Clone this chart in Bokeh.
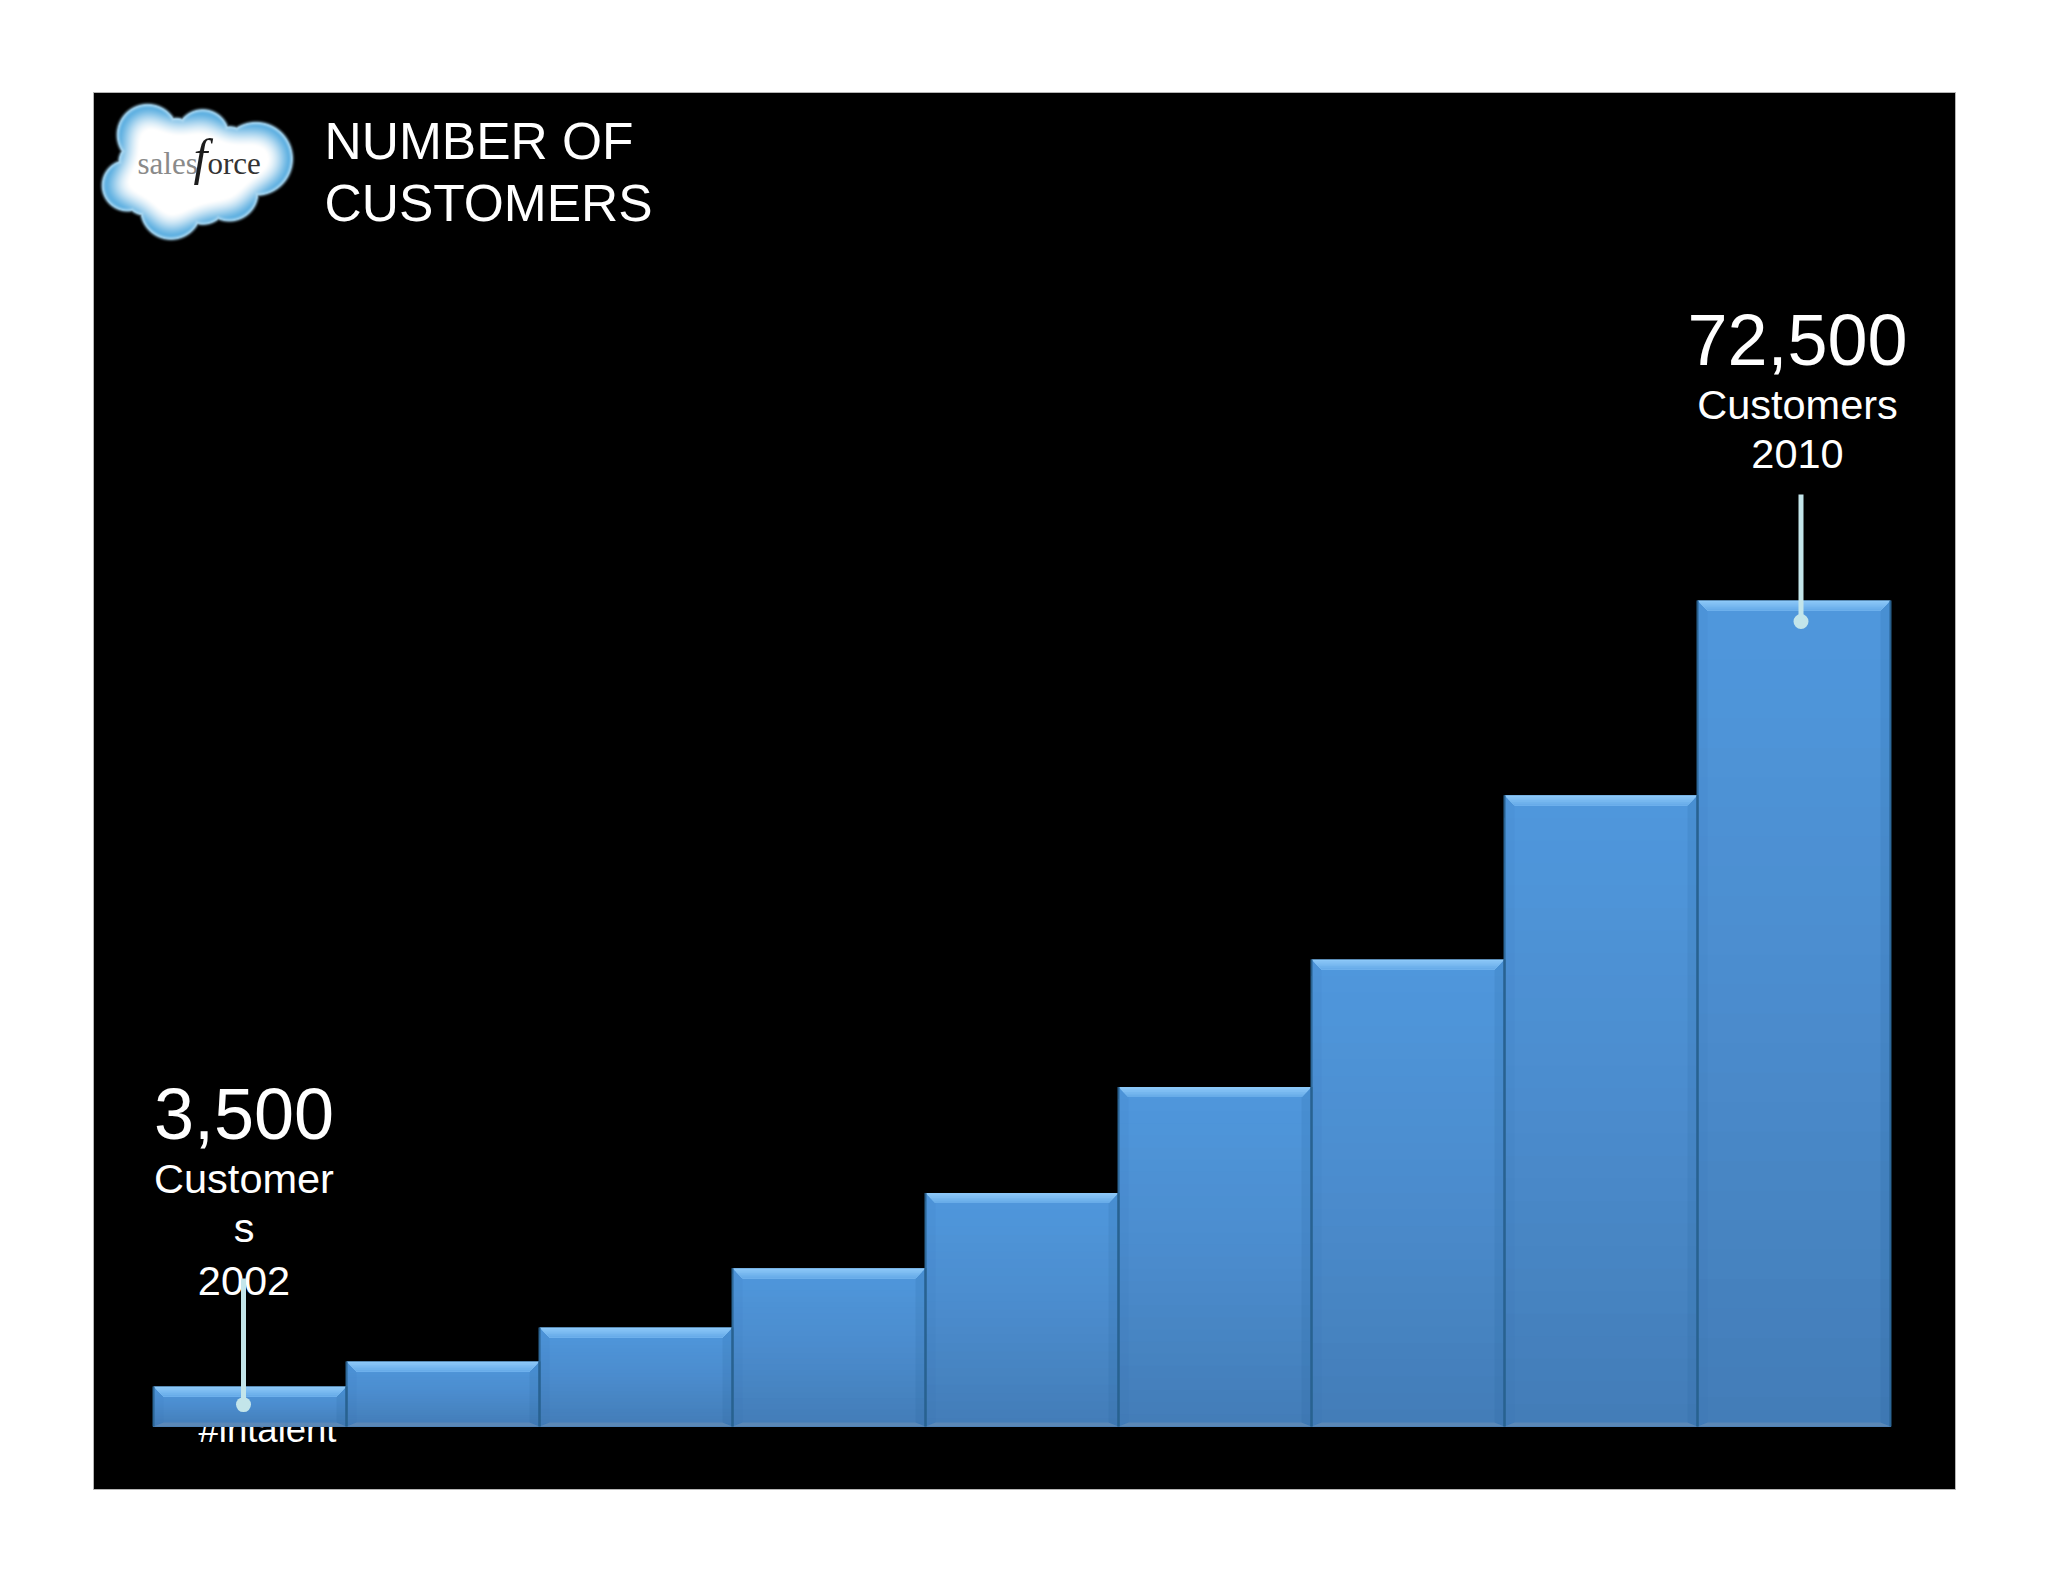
import numpy as np
from bokeh.core.properties import value
from bokeh.embed import file_html
from bokeh.resources import INLINE
from bokeh.plotting import figure
from bokeh.models import Range1d

# ---- data ----
years = [2002, 2003, 2004, 2005, 2006, 2007, 2008, 2009, 2010]
customers = [3500, 5700, 8700, 13900, 20500, 29800, 41000, 55400, 72500]
title_lines = ["NUMBER OF", "CUSTOMERS"]
first_callout = ["3,500", "Customer", "s", "2002"]
last_callout = ["72,500", "Customers", "2010"]
hidden_label = "#intalent"

# ---- layout: page pixels of the frame, and of the value axis ----
WIDTH, HEIGHT = 2032, 1566
FRAME_L, FRAME_R, FRAME_T, FRAME_B = 93, 1955, 92, 1489
BAR_PX = 193.0
BASE_PX = 1426.0
FIRST_CENTRE_PX = 249.5
PX_PER_CUSTOMER = 826.0 / customers[-1]
BASELINE_SHIFT = 0.375  # share of the font size the svg text sits below its anchor


def X(px):
    return years[0] + (px - FIRST_CENTRE_PX) / BAR_PX


def Y(px):
    return (BASE_PX - px) / PX_PER_CUSTOMER


dx = 1 / BAR_PX
dy = 1 / PX_PER_CUSTOMER

p = figure(
    width=WIDTH, height=HEIGHT, output_backend="svg", toolbar_location=None,
    x_range=Range1d(X(FRAME_L), X(FRAME_R)), y_range=Range1d(Y(FRAME_B), Y(FRAME_T)),
    x_axis_location=None, y_axis_location=None,
    min_border_left=FRAME_L, min_border_right=WIDTH - FRAME_R,
    min_border_top=FRAME_T, min_border_bottom=HEIGHT - FRAME_B,
    background_fill_color="#000000", border_fill_color="#ffffff",
    outline_line_color="#b5b5b5", outline_line_width=1,
)
p.grid.visible = False

FONT = "Liberation Sans"


def txt(s, px, py, size, align="center", color="#ffffff", font=FONT, style="normal"):
    p.text(x=[X(px)], y=[Y(py - BASELINE_SHIFT * size)], text=[s], text_font=value(font),
           text_font_size=f"{size}px", text_color=color, text_align=align,
           text_baseline="alphabetic", text_font_style=style)


# label that sits behind the first bar
txt(hidden_label, 198, 1443, 36.5, align="left")


def hex_rgb(c):
    return np.array([int(c[i:i + 2], 16) for i in (1, 3, 5)], float)


def mix(stops, t):
    for (t0, c0), (t1, c1) in zip(stops, stops[1:]):
        if t <= t1:
            f = (t - t0) / (t1 - t0)
            v = hex_rgb(c0) * (1 - f) + hex_rgb(c1) * f
            return "#%02x%02x%02x" % tuple(int(round(a)) for a in v)
    return stops[-1][1]


BODY = [(0, "#4f97dc"), (0.5, "#4b8ccd"), (1, "#437db8")]
TOP = [(0, "#8cc8f8"), (1, "#68ace9")]

# body gradient: painted top first, each slice reaching to the bar's base
STEPS = 28
L, R, T, C = [], [], [], []
for yr, v in zip(years, customers):
    for k in range(STEPS):
        L.append(yr - 0.5)
        R.append(yr + 0.5)
        T.append(v * (1 - k / STEPS))
        C.append(mix(BODY, k / (STEPS - 1)))
p.quad(left=L, right=R, top=T, bottom=[0] * len(T), fill_color=C, line_color=None)

# bevels
BH, BW, BB = 10, 10, 4
xs_l, ys_l, xs_r, ys_r, xs_b, ys_b = [], [], [], [], [], []
xs_t, ys_t, c_t = [], [], []
for yr, v in zip(years, customers):
    l, r = yr - 0.5, yr + 0.5
    xs_l.append([l, l + BW * dx, l + BW * dx, l])
    ys_l.append([v, v - BH * dy, BB * dy, 0])
    xs_r.append([r, r - BW * dx, r - BW * dx, r])
    ys_r.append([v, v - BH * dy, BB * dy, 0])
    xs_b.append([l, r, r - BW * dx, l + BW * dx])
    ys_b.append([0, 0, BB * dy, BB * dy])
    n = 6
    for j in range(n):
        a = BH * j / n
        xs_t.append([l + a * dx, r - a * dx, r - BH * dx, l + BH * dx])
        ys_t.append([v - a * dy, v - a * dy, v - BH * dy, v - BH * dy])
        c_t.append(mix(TOP, j / (n - 1)))
p.patches(xs_l, ys_l, fill_color="#2a6aa8", fill_alpha=0.07, line_color=None)
p.patches(xs_r, ys_r, fill_color="#1f5a90", fill_alpha=0.13, line_color=None)
p.patches(xs_b, ys_b, fill_color="#8098b4", fill_alpha=0.40, line_color=None)
p.patches(xs_t, ys_t, fill_color=c_t, line_color=None)

# dark edges of the bars
ex = [yr - 0.5 for yr in years] + [yr + 0.5 for yr in years]
ey = list(customers) + list(customers)
p.segment(x0=ex, y0=[0] * len(ex), x1=ex, y1=ey, line_color="#28618f", line_width=2.2, line_alpha=0.85)

# callouts
for s, py, size in zip(first_callout, [1140, 1194, 1243, 1296], [72, 41.5, 41.5, 41.5]):
    txt(s, 243.5, py, size)
for s, py, size in zip(last_callout, [366, 420, 469], [72, 41.5, 41.5]):
    txt(s, 1797, py, size)

# leaders: from a point above the bar to a dot inside it
lead_x = [years[0] - 6.5 * dx, years[-1] + 7 * dx]
lead_top = [customers[0] + 108 * dy, customers[-1] + 106 * dy]
lead_dot = [customers[0] - 18 * dy, customers[-1] - 21 * dy]
p.segment(x0=lead_x, y0=lead_dot, x1=lead_x, y1=lead_top, line_color="#c3e5ea", line_width=5)
p.scatter(x=lead_x, y=lead_dot, size=15, marker="circle", fill_color="#c3e5ea", line_color=None)

# heading
txt(title_lines[0], 324, 160, 51.5, align="left")
txt(title_lines[1], 324, 222, 51.5, align="left")

# logo cloud: union of lobes (centre x, centre y, radius, in logo-crop units of 1/3 page px)
lobes = [(155, 118, 90), (320, 122, 78), (480, 190, 108), (400, 290, 85),
         (95, 270, 75), (225, 340, 90), (300, 230, 130), (240, 140, 70),
         (400, 160, 65), (130, 200, 60), (150, 290, 68), (320, 310, 75)]
LX0, LX1, LY0, LY1 = 95, 305, 95, 250
SS = 2
gx, gy = np.meshgrid(np.arange(LX0, LX1, 1 / SS), np.arange(LY0, LY1, 1 / SS))
sd = np.max([r / 3 - np.hypot(gx - (cx / 3 + LX0), gy - (cy / 3 + LY0)) for cx, cy, r in lobes], axis=0)
mask = (sd >= 0).astype(float)
sigma = 13 * SS
kx = np.arange(-3 * sigma, 3 * sigma + 1)
kernel = np.exp(-kx ** 2 / (2.0 * sigma ** 2))
kernel /= kernel.sum()
blur = np.apply_along_axis(lambda m: np.convolve(m, kernel, mode="same"), 0, mask)
blur = np.apply_along_axis(lambda m: np.convolve(m, kernel, mode="same"), 1, blur)
t = np.clip((blur - 0.52) / 0.42, 0, 1)[..., None]
edge = np.array([0x62, 0xb2, 0xe2], float)
white = np.array([255, 255, 255], float)
rgb = edge * (1 - t ** 1.3) + white * t ** 1.3
rim = np.clip(1 - sd / 3, 0, 1)[..., None] * 0.55
rgb = rgb * (1 - rim) + np.array([0xd5, 0xee, 0xfa], float) * rim
alpha = np.clip((sd + 4) / 4, 0, 1) ** 2
rgba = np.dstack([rgb, alpha * 255]).astype(np.uint8)
img = rgba[::-1].copy().view(np.uint32).reshape(rgba.shape[:2])
p.image_rgba(image=[img], x=X(LX0), y=Y(LY1), dw=X(LX1) - X(LX0), dh=Y(LY0) - Y(LY1))

txt("sales", 137, 175, 31, align="left", color="#8a8a8a", font="Liberation Serif")
txt("f", 193, 175, 50, align="left", color="#1c1c1c", font="Liberation Serif", style="italic")
txt("orce", 207, 175, 31, align="left", color="#333333", font="Liberation Serif")

open("out.html", "w").write(file_html(p, INLINE))
